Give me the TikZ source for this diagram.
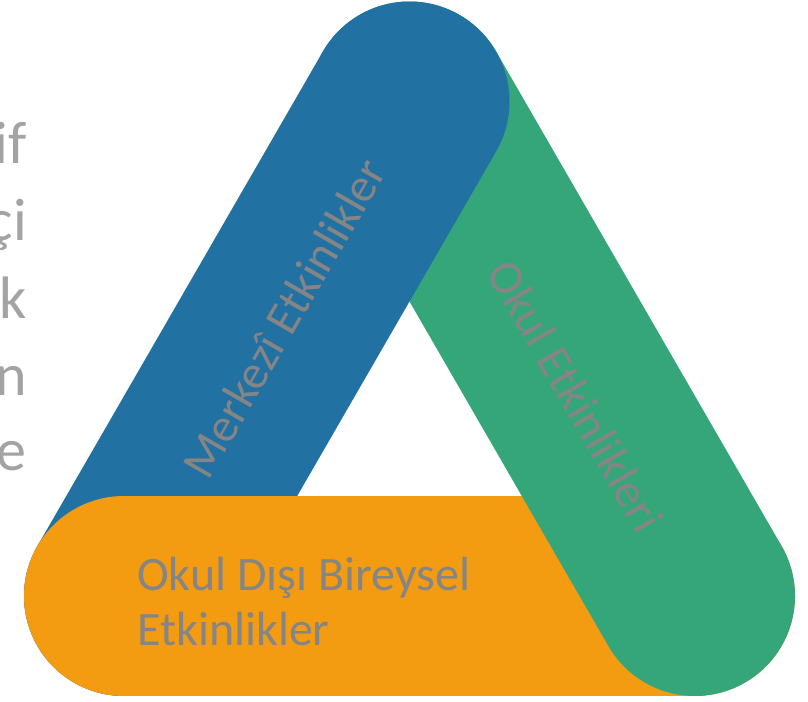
\documentclass[tikz,border=0pt]{standalone}
\usepackage{fontspec}
\setmainfont{Carlito}
\usepackage{tikz}
\usetikzlibrary{positioning}

\definecolor{barblue}{HTML}{2171A3}
\definecolor{bargreen}{HTML}{34A67A}
\definecolor{barorange}{HTML}{F39C12}
\definecolor{labelgray}{HTML}{858585}
\definecolor{textgray}{HTML}{A3A3A3}

\begin{document}
\begin{tikzpicture}[x=1pt,y=-1pt]

\tikzset{bar/.style={line width=200pt, line cap=round},
	barlabel/.style={text=labelgray, inner sep=0pt,
		font=\fontsize{48}{55}\selectfont},
	fragment/.style={text=textgray, inner sep=0pt, anchor=base east,
		font=\fontsize{60}{72}\selectfont}
}
\useasboundingbox (0,0) rectangle (808,701);

% corners of the triangle
\coordinate (left) at (124,596);
\coordinate (top) at (409.5,101.5);
\coordinate (right) at (695,596);

\draw[bar, barorange] (left) -- (right);
\draw[bar, bargreen] (top) -- (right);
\draw[bar, barblue] (left) -- (top);
% orange lies over blue at the left corner
\begin{scope}
	\clip (0,400) rectangle (400,701);
	\draw[bar, barorange] (left) -- (right);
\end{scope}

\node[barlabel, rotate=60] (central) at (284,318) {Merkezî Etkinlikler};
\node[barlabel, rotate=-60] (school) at (576,396) {Okul Etkinlikleri};
\node[barlabel, align=left, anchor=base west] (outside) at (137,645)
	{Okul Dışı Bireysel\\Etkinlikler};

%cut-off text at the left edge
\node[fragment] (f1) at (27,163) {if};
\node[fragment] (f2) at (27,240) {çi};
\node[fragment] (f3) at (27,318) {k};
\node[fragment] (f4) at (27,395) {n};
\node[fragment] (f5) at (27,470) {e};
\end{tikzpicture}
\end{document}
